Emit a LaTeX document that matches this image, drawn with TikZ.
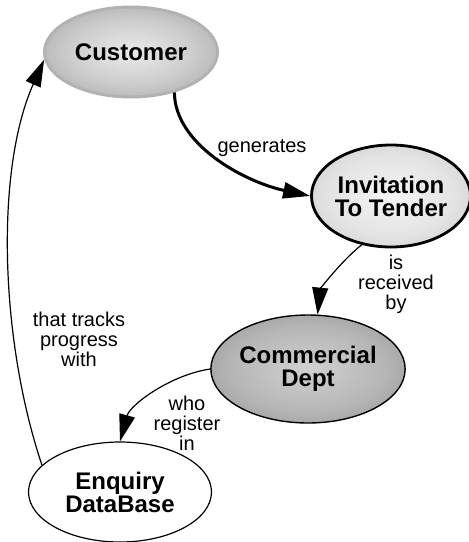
\documentclass[tikz,border=0pt]{standalone}
\usepackage{fontspec}
\setmainfont{Liberation Sans}
\usetikzlibrary{arrows.meta,shapes.geometric}

% radial fills for the concept bubbles
\pgfdeclareradialshading{custshade}{\pgfpoint{0bp}{0bp}}{gray(0bp)=(0.92);gray(18bp)=(0.80);gray(50bp)=(0.50)}
\pgfdeclareradialshading{invshade}{\pgfpoint{0bp}{0bp}}{gray(0bp)=(0.96);gray(20bp)=(0.89);gray(50bp)=(0.68)}
\pgfdeclareradialshading{comshade}{\pgfpoint{0bp}{0bp}}{gray(0bp)=(0.82);gray(20bp)=(0.71);gray(50bp)=(0.42)}

\begin{document}
\begin{tikzpicture}[x=1pt,y=1pt,
  concept/.style={ellipse, inner sep=0pt, align=center,
    font=\fontsize{24}{23}\selectfont\bfseries},
  lbl/.style={align=center, inner sep=0pt,
    font=\fontsize{20}{20}\selectfont},
  link/.style={line width=1.2pt, -{Triangle[length=27pt,width=16pt]}},
  ]
\fill[white] (0,0) rectangle (469,-542);
\useasboundingbox (0,0) rectangle (469,-542);

% concepts
\node[concept, minimum width=173pt, minimum height=90pt,
      shading=custshade, draw=black!30, line width=3pt] (cust) at (131,-52) {Customer};
\node[concept, minimum width=156pt, minimum height=102pt,
      shading=invshade, draw=black, line width=2.8pt] (inv) at (391,-196) {Invitation\\To Tender};
\node[concept, minimum width=184pt, minimum height=108pt,
      shading=comshade, draw=black, line width=1.4pt] (com) at (308,-369) {Commercial\\Dept};
\node[concept, minimum width=183pt, minimum height=100pt,
      fill=white, draw=black, line width=1.2pt] (enq) at (120,-492) {Enquiry\\DataBase};

% links
\draw[link, line width=3pt] (cust.-43) .. controls (175,-145) and (245,-182) .. (inv.180);
\draw[link] (inv.-121) .. controls (340,-262) and (320,-290) .. (com.80);
\draw[link] (com.180) .. controls (170,-375) and (130,-405) .. (enq.90);
\draw[link] (enq.161) .. controls (0,-340) and (-5,-170) .. (cust.185);

% link phrases
\node[lbl] (lgen) at (262,-148) {generates};
\node[lbl] (lrec) at (396,-284) {is\\received\\by};
\node[lbl] (ltrk) at (79,-339) {that tracks\\progress\\with};
\node[lbl] (lreg) at (187,-423) {who\\register\\in};
\end{tikzpicture}
\end{document}
